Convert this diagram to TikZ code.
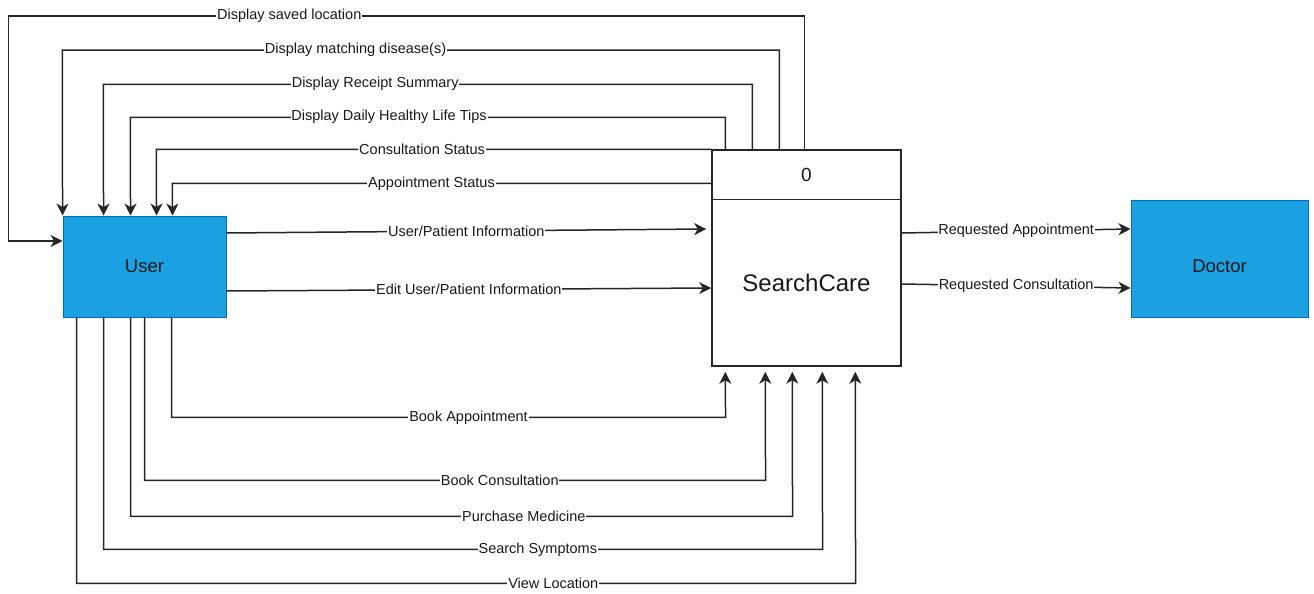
\documentclass[tikz,border=0pt]{standalone}
\usepackage{fontspec}
\setmainfont{Liberation Sans}
\usetikzlibrary{arrows.meta}
\definecolor{ublue}{HTML}{1BA1E2}
\definecolor{ublueline}{HTML}{006EAF}
\begin{document}
\begin{tikzpicture}[x=1pt,y=-1pt,
  ent/.style={draw=ublueline,fill=ublue,line width=0.9pt,inner sep=0pt},
  etxt/.style={text=black!90,font=\fontsize{18.5}{20}\selectfont},
  proc/.style={draw=black!85,fill=white,line width=1.5pt,inner sep=0pt},
  flow/.style={draw=black!85,line width=1.5pt,-{Stealth[length=12pt,width=12pt,inset=3.5pt]}},
  lbl/.style={fill=white,inner sep=0.8pt,text=black!90,font=\fontsize{14.5}{16}\selectfont}]
\useasboundingbox (0,0) rectangle (1314,594);
% entities
\node[ent,minimum width=163pt,minimum height=101pt] (user) at (144.5,266.5) {};
\node[etxt] (usertxt) at (144.5,266.5) {User};
\node[ent,minimum width=177pt,minimum height=117pt] (doc) at (1219.5,258.5) {};
\node[etxt] (doctxt) at (1219.5,266.5) {Doctor};
\node[proc,minimum width=189pt,minimum height=216pt] (sc) at (806.5,258) {};
\draw[draw=black!85,line width=1.5pt] ([yshift=-50pt]sc.north west) -- ([yshift=-50pt]sc.north east);
\node[font=\fontsize{19}{21}\selectfont,text=black!90] (num) at (806.5,175) {0};
\node[font=\fontsize{24}{26}\selectfont,text=black!90] (scname) at (806.5,283) {SearchCare};
% top outputs
\draw[flow] ([xshift=93pt]sc.north west) -- ++(0,-133) -- node[lbl,pos=0.647] (l1) {Display saved location} ++(-796,0) |- ([yshift=25.5pt]user.west);
\draw[flow] ([xshift=68pt]sc.north west) -- ++(0,-99) -- node[lbl,pos=0.591] (l2) {Display matching disease(s)} ++(-717,0) -- (user.north west);
\draw[flow] ([xshift=41pt]sc.north west) -- ++(0,-65) -- node[lbl,pos=0.581] (l3) {Display Receipt Summary} ++(-649,0) -- ([xshift=41pt]user.north west);
\draw[flow] ([xshift=14pt]sc.north west) -- ++(0,-32) -- node[lbl,pos=0.565] (l4) {Display Daily Healthy Life Tips} ++(-595,0) -- ([xshift=68pt]user.north west);
\draw[flow] (sc.north west) -- node[lbl,pos=0.521] (l5) {Consultation Status} ++(-555,0) -- ([xshift=94pt]user.north west);
\draw[flow] ([yshift=-34pt]sc.north west) -- node[lbl,pos=0.519] (l6) {Appointment Status} ++(-539,0) -- ([xshift=110pt]user.north west);
% inputs from user
\draw[flow] ([yshift=33.5pt]user.east) -- node[lbl,pos=0.5] (l7) {User/Patient Information} ([xshift=-5pt,yshift=29pt]sc.west);
\draw[flow] ([yshift=-24.5pt]user.east) -- node[lbl,pos=0.5] (l8) {Edit User/Patient Information} ([yshift=-30pt]sc.west);
% to doctor
\draw[flow] ([yshift=25pt]sc.east) -- node[lbl,pos=0.5] (l9) {Requested Appointment} ([yshift=29.5pt]doc.west);
\draw[flow] ([yshift=-26pt]sc.east) -- node[lbl,pos=0.5] (l10) {Requested Consultation} ([yshift=-29.5pt]doc.west);
% bottom inputs
\draw[flow,shorten >=5pt] ([xshift=109pt]user.south west) -- ++(0,100) -- node[lbl,pos=0.536] (l11) {Book Appointment} ++(554,0) -- ([xshift=14pt]sc.south west);
\draw[flow,shorten >=5pt] ([xshift=82pt]user.south west) -- ++(0,163) -- node[lbl,pos=0.572] (l12) {Book Consultation} ++(621,0) -- ([xshift=54pt]sc.south west);
\draw[flow,shorten >=5pt] ([xshift=68pt]user.south west) -- ++(0,199) -- node[lbl,pos=0.594] (l13) {Purchase Medicine} ++(662,0) -- ([xshift=81pt]sc.south west);
\draw[flow,shorten >=5pt] ([xshift=41pt]user.south west) -- ++(0,232) -- node[lbl,pos=0.604] (l14) {Search Symptoms} ++(719,0) -- ([xshift=111pt]sc.south west);
\draw[flow,shorten >=5pt] ([xshift=14pt]user.south west) -- ++(0,266) -- node[lbl,pos=0.612] (l15) {View Location} ++(779,0) -- ([xshift=144pt]sc.south west);
\end{tikzpicture}
\end{document}
